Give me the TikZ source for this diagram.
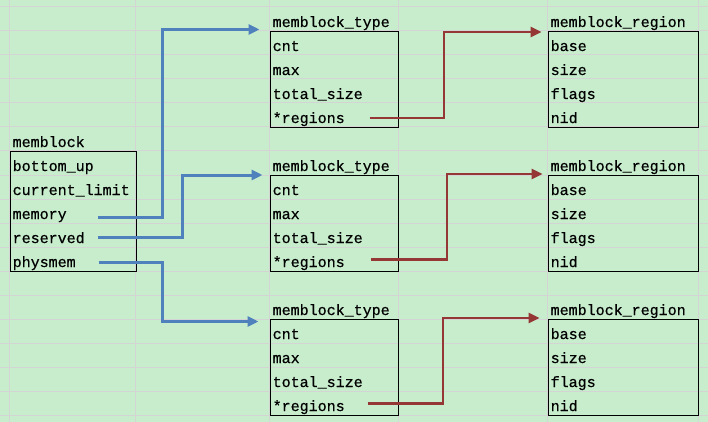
\documentclass[tikz,border=0pt]{standalone}
\usepackage{fontspec}
\newfontfamily\cellfont[FakeBold=0.6]{Liberation Mono}
\usetikzlibrary{arrows.meta,calc}
\definecolor{bgc}{RGB}{199,237,204}
\definecolor{gridc}{RGB}{212,212,212}
\definecolor{bluec}{RGB}{79,129,189}
\definecolor{redc}{RGB}{149,55,53}
\tikzset{
  lbl/.style={anchor=base west,inner sep=0pt,font=\cellfont\fontsize{15pt}{15pt}\selectfont,text=black},
  boxn/.style={draw=black,line width=1.2pt,anchor=north west,inner sep=0pt,minimum height=#1},
  bluearr/.style={draw=bluec,line width=3pt,-{Triangle[length=11pt,width=10pt]}},
  redarr/.style={draw=redc,line width=2.6pt,-{Triangle[length=11pt,width=10pt]}},
}
\begin{document}
\begin{tikzpicture}[x=1pt,y=-1pt]
\useasboundingbox (0,0) rectangle (708,422);
\fill[bgc] (0,0) rectangle (708,422);
% spreadsheet grid
\foreach \yy in {7,31,...,415} \draw[gridc,line width=1pt] (0,\yy) -- (708,\yy);
\foreach \xx in {9.5,135.5,269.5,398,547.5,698} \draw[gridc,line width=1pt] (\xx,0) -- (\xx,422);

% memblock
\node[boxn=120pt,minimum width=126pt] (mb) at (9.5,151) {};
\node[lbl] (mbt) at (12.5,147) {memblock};
\node[lbl] (mb1) at (12.5,171) {bottom\_up};
\node[lbl] (mb2) at (12.5,195) {current\_limit};
\node[lbl] (mb3) at (12.5,219) {memory};
\node[lbl] (mb4) at (12.5,243) {reserved};
\node[lbl] (mb5) at (12.5,267) {physmem};

% memblock_type boxes and memblock_region boxes
\foreach \n/\top in {A/31,B/175,C/319}{
  \node[boxn=96pt,minimum width=128.5pt] (t\n) at (269.5,\top) {};
  \node[lbl] (t\n t) at (272.5,\top-4) {memblock\_type};
  \node[lbl] (t\n 1) at (272.5,\top+20) {cnt};
  \node[lbl] (t\n 2) at (272.5,\top+44) {max};
  \node[lbl] (t\n 3) at (272.5,\top+68) {total\_size};
  \node[lbl] (t\n 4) at (272.5,\top+92) {*regions};
  \node[boxn=96pt,minimum width=150.5pt] (r\n) at (547.5,\top) {};
  \node[lbl] (r\n t) at (550.5,\top-4) {memblock\_region};
  \node[lbl] (r\n 1) at (550.5,\top+20) {base};
  \node[lbl] (r\n 2) at (550.5,\top+44) {size};
  \node[lbl] (r\n 3) at (550.5,\top+68) {flags};
  \node[lbl] (r\n 4) at (550.5,\top+92) {nid};
}

% blue connectors
\coordinate (tipA) at ([xshift=-10pt,yshift=1.5pt]tA.north west);
\coordinate (tipB) at ([xshift=-7pt]tB.north west);
\coordinate (tipC) at ([xshift=-11pt,yshift=-2.5pt]tC.north west);
\coordinate (bendA) at (162,0);
\coordinate (bendB) at (182.5,0);
\coordinate (bendC) at (162,0);
\draw[bluearr] ([xshift=85.5pt,yshift=2pt]mb3.base west) -| (bendA |- tipA) -- (tipA);
\draw[bluearr] ([xshift=85.5pt,yshift=6pt]mb4.base west) -| (bendB |- tipB) -- (tipB);
\draw[bluearr] ([xshift=86pt,yshift=5pt]mb5.base west) -| (bendC |- tipC) -- (tipC);

% red connectors
\coordinate (rtipA) at ([xshift=-6pt,yshift=-1pt]rA.north west);
\coordinate (rtipB) at ([xshift=-5pt,yshift=1pt]rB.north west);
\coordinate (rtipC) at ([xshift=-8pt,yshift=1pt]rC.north west);
\coordinate (rbendA) at (444,0);
\coordinate (rbendB) at (447,0);
\coordinate (rbendC) at (443,0);
\draw[redarr] ([xshift=97pt,yshift=5pt]tA4.base west) -| (rbendA |- rtipA) -- (rtipA);
\draw[redarr] ([xshift=98.5pt,yshift=7.3pt]tB4.base west) -| (rbendB |- rtipB) -- (rtipB);
\draw[redarr] ([xshift=95pt,yshift=7.3pt]tC4.base west) -| (rbendC |- rtipC) -- (rtipC);
\end{tikzpicture}
\end{document}
